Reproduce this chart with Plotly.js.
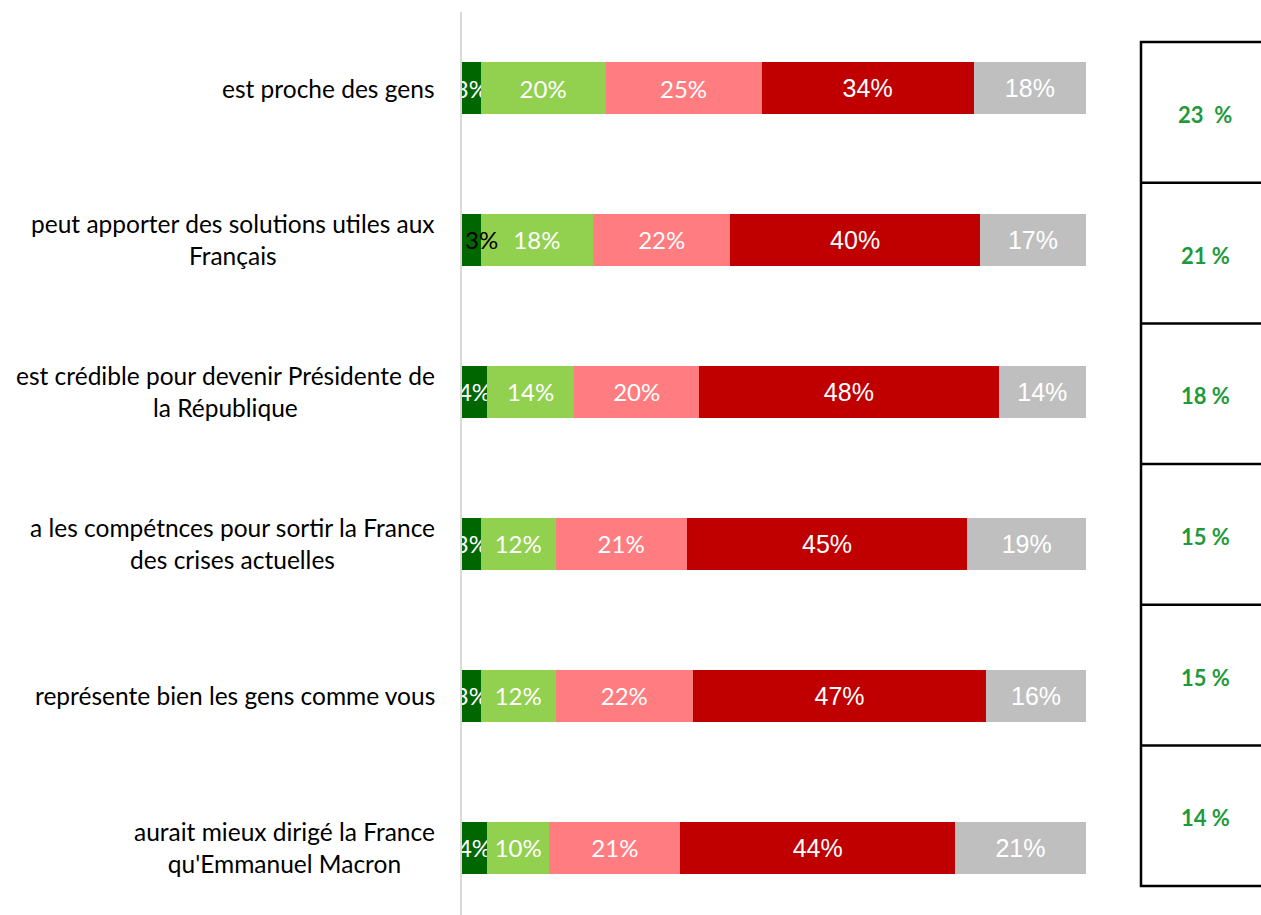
<!DOCTYPE html>
<html><head><meta charset="utf-8">
<script src="https://cdn.plot.ly/plotly-3.0.1.min.js"></script>
<style>html,body{margin:0;padding:0;background:#fff;}</style>
</head><body>
<div id="chart" style="width:1261px;height:915px;"></div>
<script>
const categories = [
  "est proche des gens",
  "peut apporter des solutions utiles aux<br>Français",
  "est crédible pour devenir Présidente de<br>la République",
  "a les compétnces pour sortir la France<br>des crises actuelles",
  "représente bien les gens comme vous",
  "aurait mieux dirigé la France<br>qu'Emmanuel Macron"
];
const seriesNames = ["Tout à fait", "Plutôt", "Plutôt pas", "Pas du tout", "Ne se prononce pas"];
const toutAFait = [3, 3, 4, 3, 3, 4];
const plutot = [20, 18, 14, 12, 12, 10];
const plutotPas = [25, 22, 20, 21, 22, 21];
const pasDuTout = [34, 40, 48, 45, 47, 44];
const nsp = [18, 17, 14, 19, 16, 21];
const totals = [23, 21, 18, 15, 15, 14];
const totalLabels = ["23  %", "21 %", "18 %", "15 %", "15 %", "14 %"];

const colors = ["#006600", "#92D050", "#FF7C80", "#C00000", "#BFBFBF"];
const values = [toutAFait, plutot, plutotPas, pasDuTout, nsp];
const yPos = categories.map((c, i) => i);
const blackLabelRow = 1; // label drawn in black, overflowing the small segment

const calib = "Lato, 'Open Sans', sans-serif";
const arial = "'Liberation Sans', Arial, sans-serif";
const fonts = [
  {family: calib, size: 24},
  {family: calib, size: 24},
  {family: calib, size: 24},
  {family: arial, size: 25},
  {family: arial, size: 25}
];

const traces = values.map((vals, k) => ({
  type: "bar",
  orientation: "h",
  name: seriesNames[k],
  y: yPos,
  x: vals,
  width: 0.342,
  marker: {color: colors[k], line: {width: 0}},
  text: vals.map((v, i) => (k === 0 && i === blackLabelRow) ? "" : v + "%"),
  textposition: "inside",
  insidetextanchor: "middle",
  constraintext: "none",
  textangle: 0,
  textfont: Object.assign({}, fonts[k], {color: "#FFFFFF"}),
  hoverinfo: "skip",
  cliponaxis: false
}));

// pixel -> paper helpers (plot area: x 462..1086, y 12..915)
const px = p => (p - 462) / 624;
const py = p => (915 - p) / 903;

const annotations = categories.map((c, i) => ({
  xref: "paper", yref: "y", x: px(437), y: i,
  xanchor: "right", yanchor: "middle", align: "center",
  text: c, showarrow: false,
  font: {family: calib, size: 24.5, color: "#000"}
}));

annotations.push({
  xref: "x", yref: "y", x: 0, y: blackLabelRow, xshift: 1,
  xanchor: "left", yanchor: "middle", showarrow: false,
  text: toutAFait[blackLabelRow] + "%",
  font: {family: calib, size: 24, color: "#000"}
});

const tableTop = 42, rowH = 140.7;
totalLabels.forEach((t, i) => {
  annotations.push({
    xref: "paper", yref: "paper", x: px(1205), y: py(tableTop + rowH * (i + 0.5) + 2),
    xanchor: "center", yanchor: "middle", text: "<b>" + t + "</b>", showarrow: false,
    font: {family: calib, size: 22, color: "#1E9A3A"}
  });
});

const shapes = [{
  type: "rect", xref: "paper", yref: "paper",
  x0: px(1141), x1: px(1275), y0: py(tableTop), y1: py(886),
  line: {color: "#000", width: 2.5}, fillcolor: "rgba(0,0,0,0)"
}];
for (let i = 1; i < 6; i++) {
  shapes.push({
    type: "line", xref: "paper", yref: "paper",
    x0: px(1141), x1: px(1275), y0: py(tableTop + rowH * i), y1: py(tableTop + rowH * i),
    line: {color: "#000", width: 2.5}
  });
}

const layout = {
  width: 1261, height: 915,
  margin: {l: 462, r: 175, t: 12, b: 0, pad: 0},
  barmode: "stack",
  showlegend: false,
  paper_bgcolor: "#fff", plot_bgcolor: "#fff",
  xaxis: {range: [0, 100], visible: false, fixedrange: true},
  yaxis: {
    range: [5.441, -0.5], showticklabels: false, showgrid: false, zeroline: false,
    showline: true, linecolor: "#D9D9D9", linewidth: 2, ticks: "", fixedrange: true
  },
  annotations: annotations,
  shapes: shapes
};

Plotly.newPlot("chart", traces, layout, {displayModeBar: false, staticPlot: true});
</script>
</body></html>
